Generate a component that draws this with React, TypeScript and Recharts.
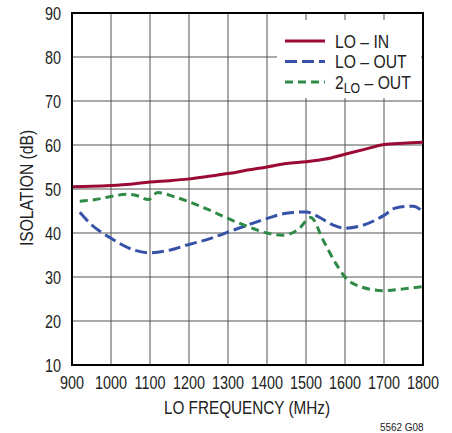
import { CartesianGrid, Line, LineChart, ReferenceArea, XAxis, YAxis } from "recharts";

// LO isolation vs LO frequency
const loInFreq = [900, 950, 1000, 1050, 1100, 1150, 1200, 1250, 1300, 1350, 1400, 1450, 1500, 1550, 1600, 1650, 1700, 1750, 1800];
const loInDb = [50.5, 50.6, 50.8, 51.1, 51.6, 51.9, 52.3, 52.9, 53.5, 54.3, 55.0, 55.8, 56.2, 56.8, 57.9, 59.0, 60.1, 60.4, 60.6];

const loOutFreq = [920, 946, 1000, 1060, 1100, 1150, 1200, 1250, 1300, 1350, 1400, 1450, 1500, 1530, 1570, 1600, 1640, 1700, 1730, 1775, 1800];
const loOutDb = [44.7, 42.2, 38.8, 36.1, 35.5, 36.1, 37.4, 38.6, 40.2, 41.8, 43.3, 44.5, 44.8, 43.8, 41.8, 41.1, 41.6, 44.0, 45.7, 46.1, 44.8];

const twoLoFreq = [920, 960, 1000, 1040, 1070, 1095, 1120, 1160, 1200, 1250, 1300, 1350, 1400, 1440, 1480, 1512, 1545, 1575, 1600, 1640, 1700, 1750, 1800];
const twoLoDb = [47.2, 47.6, 48.3, 48.8, 48.4, 47.6, 49.2, 48.3, 47.1, 45.3, 43.3, 41.5, 40.0, 39.5, 40.8, 43.5, 38.2, 33.3, 30.0, 27.8, 26.9, 27.3, 27.8];

const xTicks = [900, 1000, 1100, 1200, 1300, 1400, 1500, 1600, 1700, 1800];
const yTicks = [10, 20, 30, 40, 50, 60, 70, 80, 90];

const RED = "#9b0a35";
const BLUE = "#3652a8";
const GREEN = "#2f8a47";
const INK = "#222";
const FONT = "'Liberation Sans', Arial, sans-serif";
const NARROW = 0.8; // squeeze Arial-metric text to look like the condensed datasheet face

const toRows = (f: number[], v: number[]) => f.map((freq, i) => ({ freq, db: v[i] }));

const XTick = (props: any) => {
  const { x, y, payload } = props;
  return (
    <text transform={`translate(${x},${y}) scale(${NARROW},1)`} dy={16} textAnchor="middle" fill={INK} fontSize={18} fontFamily={FONT}>
      {payload.value}
    </text>
  );
};

const YTick = (props: any) => {
  const { x, y, payload } = props;
  return (
    <text transform={`translate(${x},${y}) scale(${NARROW},1)`} dy={6.5} textAnchor="end" fill={INK} fontSize={18} fontFamily={FONT}>
      {payload.value}
    </text>
  );
};

const legendItems = [
  { key: "in", color: RED, dash: undefined as string | undefined, main: "LO – IN", sub: "" },
  { key: "out", color: BLUE, dash: "12 5", main: "LO – OUT", sub: "" },
  { key: "2lo", color: GREEN, dash: "8 5", main: "2", sub: "LO" },
];

function Overlay() {
  return (
    <svg width={452} height={433} style={{ position: "absolute", left: 0, top: 0, pointerEvents: "none" }}>
      <text transform="translate(247,414) scale(0.85,1)" textAnchor="middle" fill={INK} fontSize={18} fontFamily={FONT}>
        LO FREQUENCY (MHz)
      </text>
      <text transform="translate(33,188) rotate(-90) scale(0.87,1)" textAnchor="middle" fill={INK} fontSize={18} fontFamily={FONT}>
        ISOLATION (dB)
      </text>
      <rect x={277} y={20} width={144} height={78} fill="#fff" />
      {legendItems.map((it, i) => {
        const cy = 41 + i * 20.5;
        return (
          <g key={it.key}>
            <line x1={285} y1={cy} x2={325} y2={cy} stroke={it.color} strokeWidth={3} strokeDasharray={it.dash} />
            <text transform={`translate(335,${cy + 6.5}) scale(0.85,1)`} fill={INK} fontSize={18.5} fontFamily={FONT}>
              {it.main}
              {it.sub ? <tspan fontSize={14.5} dy={4}>{it.sub}</tspan> : null}
              {it.sub ? <tspan dy={-4}> – OUT</tspan> : null}
            </text>
          </g>
        );
      })}
      <text transform="translate(380,431) scale(0.9,1)" fill={INK} fontSize={11} fontFamily={FONT}>
        5562 G08
      </text>
    </svg>
  );
}

export default function App() {
  return (
    <div style={{ position: "absolute", left: 0, top: 0, width: 452, height: 433, background: "#fff" }}>
      <LineChart width={452} height={433} margin={{ top: 13, right: 29, bottom: 0, left: 0 }}>
        <CartesianGrid stroke="#555" strokeWidth={1} />
        <XAxis
          type="number"
          dataKey="freq"
          domain={[900, 1800]}
          ticks={xTicks}
          interval={0}
          allowDataOverflow
          height={68}
          tick={XTick}
          tickLine={false}
          axisLine={{ stroke: "#000", strokeWidth: 2 }}
        />
        <YAxis
          type="number"
          domain={[10, 90]}
          ticks={yTicks}
          interval={0}
          width={72}
          tick={YTick}
          tickLine={false}
          tickMargin={5}
          axisLine={{ stroke: "#000", strokeWidth: 2 }}
        />
        <ReferenceArea x1={900} x2={1800} y1={10} y2={90} fill="none" stroke="#000" strokeWidth={2} />
        <Line data={toRows(loInFreq, loInDb)} dataKey="db" type="monotone" stroke={RED} strokeWidth={3} dot={false} isAnimationActive={false} />
        <Line data={toRows(loOutFreq, loOutDb)} dataKey="db" type="monotone" stroke={BLUE} strokeWidth={3} strokeDasharray="12 5" dot={false} isAnimationActive={false} />
        <Line data={toRows(twoLoFreq, twoLoDb)} dataKey="db" type="monotone" stroke={GREEN} strokeWidth={3} strokeDasharray="8 5" dot={false} isAnimationActive={false} />
      </LineChart>
      <Overlay />
    </div>
  );
}
